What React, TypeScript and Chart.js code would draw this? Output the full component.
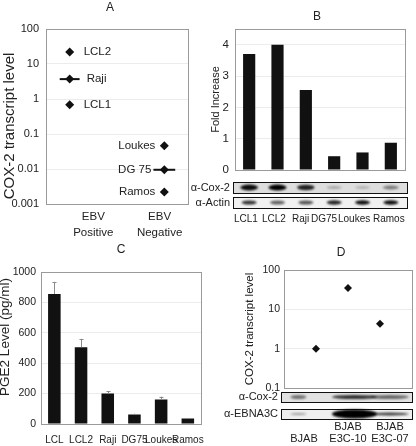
import React, { useEffect, useRef } from "react";
import { Chart, registerables } from "chart.js";

Chart.register(...registerables);
Chart.defaults.font.family = '"Liberation Sans", Arial, Helvetica, sans-serif';
Chart.defaults.color = "#222";

// ---------- Panel A: COX-2 transcript level ----------
const aCatLabels = [["EBV", "Positive"], ["EBV", "Negative"]];
const aCatLabelPos = [2, 4.8];
const aLines = ["LCL2", "Raji", "LCL1", "Loukes", "DG 75", "Ramos"];
const aGroupX = [1, 1, 1, 5, 5, 5];
const aValues = [22, 3.7, 0.68, 0.046, 0.0095, 0.0022];
const aXErr = [0, 0.42, 0, 0, 0.46, 0];
const aLabelSide = [1, 1, 1, -1, -1, -1];
const aTicks = [0.001, 0.01, 0.1, 1, 10, 100];

// ---------- Panel B: Fold increase + blots ----------
const bLanes = ["LCL1", "LCL2", "Raji", "DG75", "Loukes", "Ramos"];
const bFold = [3.7, 4.0, 2.55, 0.44, 0.56, 0.87];
const bTicks = [0, 1, 2, 3, 4];
const bCox2Band = [0.95, 1.0, 0.85, 0.25, 0.2, 0.45];
const bActinBand = [0.8, 0.6, 0.65, 0.85, 0.95, 0.95];
const bLaneLabelLeft = [234, 262, 292, 311, 338, 373];

// ---------- Panel C: PGE2 level ----------
const cLanes = ["LCL", "LCL2", "Raji", "DG75", "Loukes", "Ramos"];
const cPGE2 = [855, 505, 200, 62, 162, 36];
const cErr = [80, 55, 15, 6, 18, 4];

// ---------- Panel D: BJAB lines ----------
const dX = [1, 2, 3];
const dValues = [1.0, 35, 4.3];
const dTicks = [0.1, 1, 10, 100];
const dLaneX = [0.45, 2.2, 3.3];
const dLaneW = [0.5, 1.4, 1.2];
const dCox2Band = [0.5, 0.8, 0.55];
const dEbnaBand = [0.35, 1.0, 0.75];
const dEbnaH = [2, 9, 3];
const dLaneLabels = [["", "BJAB"], ["BJAB", "E3C-10"], ["BJAB", "E3C-07"]];
const dLaneLabelX = [304, 348, 390];

const TXT = "#222";
const GRID = "#ececec";
const FRAME = "#9a9a9a";

const framePlugin = {
  id: "frame",
  beforeDatasetsDraw(chart: any) {
    const { ctx, chartArea } = chart;
    const l = Math.round(chartArea.left) + 0.5;
    const t = Math.round(chartArea.top) + 0.5;
    const w = Math.round(chartArea.right - chartArea.left);
    const h = Math.round(chartArea.bottom - chartArea.top);
    ctx.save();
    ctx.strokeStyle = FRAME;
    ctx.lineWidth = 1;
    ctx.strokeRect(l, t, w, h);
    ctx.restore();
  },
};

function drawBand(ctx: CanvasRenderingContext2D, cx: number, cy: number, w: number, h: number, a: number) {
  ctx.save();
  ctx.filter = "blur(0.8px)";
  ctx.fillStyle = `rgba(0,0,0,${a})`;
  ctx.beginPath();
  ctx.ellipse(cx, cy, w / 2, h / 2, 0, 0, Math.PI * 2);
  ctx.fill();
  ctx.restore();
}

function drawBox(ctx: CanvasRenderingContext2D, x0: number, y0: number, x1: number, y1: number, fill: string) {
  ctx.save();
  ctx.fillStyle = fill;
  ctx.fillRect(x0, y0, x1 - x0, y1 - y0);
  ctx.strokeStyle = "#111";
  ctx.lineWidth = 1;
  ctx.strokeRect(Math.round(x0) + 0.5, Math.round(y0) + 0.5, Math.round(x1 - x0), Math.round(y1 - y0));
  ctx.restore();
}

function makeA(): any {
  return {
    type: "scatter",
    data: {
      datasets: [
        {
          data: aValues.map((v, i) => ({ x: aGroupX[i], y: v })),
          pointStyle: "rectRot",
          pointRadius: 4.5,
          backgroundColor: "#111",
          borderWidth: 0,
        },
      ],
    },
    options: {
      responsive: false,
      animation: false,
      devicePixelRatio: 1,
      layout: { padding: { top: 29, right: 12, left: 0, bottom: 0 } },
      plugins: { legend: { display: false }, tooltip: { enabled: false } },
      scales: {
        x: {
          type: "linear",
          min: 0,
          max: 6,
          grid: { display: false, drawTicks: false },
          border: { display: false },
          afterBuildTicks: (s: any) => {
            s.ticks = aCatLabelPos.map((v) => ({ value: v }));
          },
          afterFit: (s: any) => {
            s.height = 36;
          },
          ticks: {
            autoSkip: false,
            maxRotation: 0,
            padding: 5,
            color: TXT,
            font: { size: 11.5, lineHeight: 1.4 },
            callback: (_v: any, i: number) => aCatLabels[i],
          },
        },
        y: {
          type: "logarithmic",
          min: 0.001,
          max: 100,
          grid: { color: GRID, drawTicks: false },
          border: { display: false },
          afterBuildTicks: (s: any) => {
            s.ticks = aTicks.map((v) => ({ value: v }));
          },
          afterFit: (s: any) => {
            s.width = 46;
          },
          ticks: {
            padding: 7,
            color: TXT,
            font: { size: 11 },
            callback: (v: any) => String(v),
          },
        },
      },
    },
    plugins: [
      framePlugin,
      {
        id: "aLabels",
        afterDatasetsDraw(chart: any) {
          const { ctx } = chart;
          const xs = chart.scales.x;
          const meta = chart.getDatasetMeta(0);
          ctx.save();
          meta.data.forEach((pt: any, i: number) => {
            const { x, y } = pt;
            if (aXErr[i]) {
              ctx.strokeStyle = "#111";
              ctx.lineWidth = 2;
              ctx.beginPath();
              ctx.moveTo(xs.getPixelForValue(aGroupX[i] - aXErr[i]), y);
              ctx.lineTo(xs.getPixelForValue(aGroupX[i] + aXErr[i]), y);
              ctx.stroke();
            }
            ctx.fillStyle = TXT;
            ctx.font = '11.5px "Liberation Sans", Arial, sans-serif';
            ctx.textBaseline = "middle";
            const side = aLabelSide[i];
            ctx.textAlign = side > 0 ? "left" : "right";
            const off = aXErr[i] ? (side > 0 ? 17 : -13) : side > 0 ? 14 : -9;
            ctx.fillText(aLines[i], x + off, y);
          });
          ctx.restore();
        },
      },
    ],
  };
}

function makeB(): any {
  return {
    type: "bar",
    data: {
      labels: bLanes,
      datasets: [
        {
          data: bFold,
          backgroundColor: "#111",
          barPercentage: 0.43,
          categoryPercentage: 1,
        },
      ],
    },
    options: {
      responsive: false,
      animation: false,
      devicePixelRatio: 1,
      layout: { padding: { top: 29, right: 11, left: 0, bottom: 55 } },
      plugins: { legend: { display: false }, tooltip: { enabled: false } },
      scales: {
        x: { display: false },
        y: {
          min: 0,
          max: 4.5,
          grid: { color: GRID, drawTicks: false },
          border: { display: false },
          afterBuildTicks: (s: any) => {
            s.ticks = bTicks.map((v) => ({ value: v }));
          },
          afterFit: (s: any) => {
            s.width = 27;
          },
          ticks: { padding: 6, color: TXT, font: { size: 11.5 } },
          title: {
            display: true,
            text: "Fold Increase",
            color: TXT,
            font: { size: 11 },
            padding: { top: 1, bottom: 0 },
          },
        },
      },
    },
    plugins: [
      framePlugin,
      {
        id: "bBlots",
        afterDraw(chart: any) {
          const { ctx, chartArea } = chart;
          const xs = chart.scales.x;
          const b = chartArea.bottom;
          const x0 = chartArea.left - 2;
          const x1 = chartArea.right + 2;
          drawBox(ctx, x0, b + 12, x1, b + 23, "#dedede");
          drawBox(ctx, x0, b + 27, x1, b + 38, "#f1f1f1");
          bLanes.forEach((_l, i) => {
            const cx = xs.getPixelForValue(i);
            const a = bCox2Band[i];
            drawBand(ctx, cx, b + 17.5, 14 + a * 4, 2 + a * 4, a);
            drawBand(ctx, cx, b + 32.5, 15, 3 + bActinBand[i] * 1.5, bActinBand[i]);
          });
        },
      },
    ],
  };
}

function makeC(): any {
  return {
    type: "bar",
    data: {
      labels: cLanes,
      datasets: [
        {
          data: cPGE2,
          backgroundColor: "#111",
          barPercentage: 0.47,
          categoryPercentage: 1,
        },
      ],
    },
    options: {
      responsive: false,
      animation: false,
      devicePixelRatio: 1,
      layout: { padding: { top: 32, right: 4, left: 0, bottom: 0 } },
      plugins: { legend: { display: false }, tooltip: { enabled: false } },
      scales: {
        x: {
          grid: { display: false, drawTicks: false },
          border: { display: false },
          afterFit: (s: any) => {
            s.height = 22;
          },
          ticks: { autoSkip: false, maxRotation: 0, padding: 10, color: TXT, font: { size: 10 } },
        },
        y: {
          min: 0,
          max: 1000,
          grid: { color: GRID, drawTicks: false },
          border: { display: false },
          afterFit: (s: any) => {
            s.width = 41;
          },
          ticks: {
            stepSize: 200,
            padding: 5,
            color: TXT,
            font: { size: 10.5 },
            callback: (v: any) => String(v),
          },
        },
      },
    },
    plugins: [
      framePlugin,
      {
        id: "cErr",
        afterDatasetsDraw(chart: any) {
          const { ctx } = chart;
          const ys = chart.scales.y;
          const meta = chart.getDatasetMeta(0);
          ctx.save();
          ctx.strokeStyle = "#8a8a8a";
          ctx.lineWidth = 1;
          meta.data.forEach((bar: any, i: number) => {
            const x = Math.round(bar.x) + 0.5;
            const yt = ys.getPixelForValue(cPGE2[i] + cErr[i]);
            ctx.beginPath();
            ctx.moveTo(x, bar.y);
            ctx.lineTo(x, yt);
            ctx.moveTo(x - 2, Math.round(yt) + 0.5);
            ctx.lineTo(x + 2, Math.round(yt) + 0.5);
            ctx.stroke();
          });
          ctx.restore();
        },
      },
    ],
  };
}

function makeD(): any {
  return {
    type: "scatter",
    data: {
      datasets: [
        {
          data: dValues.map((v, i) => ({ x: dX[i], y: v })),
          pointStyle: "rectRot",
          pointRadius: 4,
          backgroundColor: "#111",
          borderWidth: 0,
        },
      ],
    },
    options: {
      responsive: false,
      animation: false,
      devicePixelRatio: 1,
      layout: { padding: { top: 15, right: 3, left: 0, bottom: 58 } },
      plugins: { legend: { display: false }, tooltip: { enabled: false } },
      scales: {
        x: { type: "linear", min: 0, max: 4, display: false },
        y: {
          type: "logarithmic",
          min: 0.1,
          max: 100,
          grid: { color: GRID, drawTicks: false },
          border: { display: false },
          afterBuildTicks: (s: any) => {
            s.ticks = dTicks.map((v) => ({ value: v }));
          },
          afterFit: (s: any) => {
            s.width = 45;
          },
          ticks: { padding: 4, color: TXT, font: { size: 10.5 }, callback: (v: any) => String(v) },
          title: {
            display: true,
            text: "COX-2 transcript level",
            color: TXT,
            font: { size: 11.5 },
            padding: { top: 4, bottom: 0 },
          },
        },
      },
    },
    plugins: [
      framePlugin,
      {
        id: "dBlots",
        afterDraw(chart: any) {
          const { ctx, chartArea } = chart;
          const xs = chart.scales.x;
          const b = chartArea.bottom;
          const x0 = chartArea.left - 3;
          const x1 = chartArea.right;
          drawBox(ctx, x0, b + 4, x1, b + 14, "#e2e2e2");
          drawBox(ctx, x0, b + 21, x1, b + 31, "#efefef");
          dLaneX.forEach((lx, i) => {
            const cx = xs.getPixelForValue(lx);
            const w = xs.getPixelForValue(lx + dLaneW[i]) - xs.getPixelForValue(lx);
            drawBand(ctx, cx, b + 9, w, 4, dCox2Band[i]);
            drawBand(ctx, cx, b + 26, w, dEbnaH[i], dEbnaBand[i]);
          });
        },
      },
    ],
  };
}

function ChartBox(props: { left: number; top: number; width: number; height: number; make: () => any }) {
  const ref = useRef<HTMLCanvasElement>(null);
  useEffect(() => {
    const chart = new Chart(ref.current as HTMLCanvasElement, props.make());
    return () => chart.destroy();
  }, []);
  return (
    <div style={{ position: "absolute", left: props.left, top: props.top, width: props.width, height: props.height }}>
      <canvas ref={ref} width={props.width} height={props.height} style={{ display: "block" }} />
    </div>
  );
}

function T(props: {
  x: number;
  y: number;
  size?: number;
  align?: "left" | "center" | "right";
  rotate?: boolean;
  children: any;
}) {
  const align = props.align || "center";
  const tx = align === "center" ? "-50%" : align === "right" ? "-100%" : "0";
  return (
    <div
      style={{
        position: "absolute",
        left: props.x,
        top: props.y,
        transform: `translate(${tx}, -50%)${props.rotate ? " rotate(-90deg)" : ""}`,
        fontSize: props.size || 12,
        lineHeight: 1.2,
        whiteSpace: "nowrap",
        color: TXT,
        textAlign: align,
      }}
    >
      {props.children}
    </div>
  );
}

export default function App() {
  return (
    <div
      style={{
        position: "absolute",
        left: 0,
        top: 0,
        width: 416,
        height: 446,
        background: "#fff",
        overflow: "hidden",
        fontFamily: '"Liberation Sans", Arial, Helvetica, sans-serif',
      }}
    >
      <ChartBox left={0} top={0} width={200} height={240} make={makeA} />
      <ChartBox left={208} top={0} width={208} height={225} make={makeB} />
      <ChartBox left={0} top={240} width={214} height={206} make={makeC} />
      <ChartBox left={239} top={255} width={177} height={191} make={makeD} />

      <T x={110} y={7}>A</T>
      <T x={317} y={16}>B</T>
      <T x={121} y={249}>C</T>
      <T x={341} y={252}>D</T>

      <T x={9} y={126} size={15} rotate>
        COX-2 transcript level
      </T>
      <T x={5} y={337} size={13.5} rotate>
        PGE2 Level (pg/ml)
      </T>

      <T x={230} y={188} size={11} align="right">α-Cox-2</T>
      <T x={230} y={203} size={11} align="right">α-Actin</T>
      {bLanes.map((l, i) => (
        <T key={l} x={bLaneLabelLeft[i]} y={219} size={10} align="left">
          {l}
        </T>
      ))}

      <T x={278} y={397} size={11} align="right">α-Cox-2</T>
      <T x={278} y={414} size={11} align="right">α-EBNA3C</T>
      {dLaneLabels.map((ls, i) => (
        <React.Fragment key={i}>
          {ls[0] ? (
            <T x={dLaneLabelX[i]} y={427} size={11}>
              {ls[0]}
            </T>
          ) : null}
          <T x={dLaneLabelX[i]} y={439} size={11}>
            {ls[1]}
          </T>
        </React.Fragment>
      ))}
    </div>
  );
}
